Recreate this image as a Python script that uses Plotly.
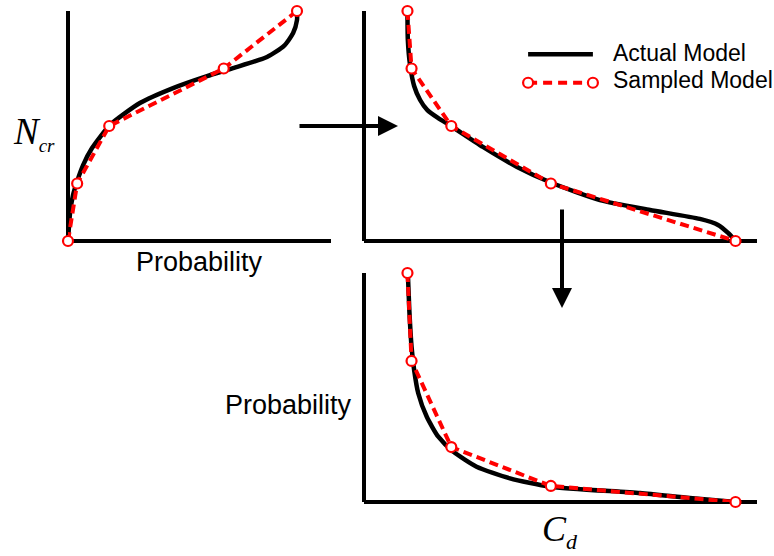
import plotly.graph_objects as go

W, H = 774, 556

# ---- data -------------------------------------------------------------
# Panel 1: probability vs critical load N_cr
p1_actual_prob = [0, 0.009, 0.022, 0.039, 0.066, 0.105, 0.183, 0.314, 0.459,
                  0.607, 0.721, 0.869, 0.943, 0.983, 1.0, 1.0]
p1_actual_ncr = [0, 0.122, 0.2, 0.257, 0.33, 0.404, 0.504, 0.6, 0.665,
                 0.717, 0.752, 0.8, 0.848, 0.904, 0.961, 1.0]
p1_sample_prob = [0, 0.04, 0.18, 0.68, 1.0]
p1_sample_ncr = [0, 0.25, 0.5, 0.75, 1.0]

# Panel 2: N_cr vs drag coefficient C_d
p2_actual_cd = [0.117, 0.118, 0.124, 0.135, 0.151, 0.170, 0.199, 0.234, 0.320,
                0.412, 0.506, 0.635, 0.770, 0.904, 0.953, 0.980, 1.0]
p2_actual_ncr = [1.0, 0.874, 0.765, 0.674, 0.613, 0.57, 0.535, 0.5, 0.409,
                 0.322, 0.252, 0.178, 0.135, 0.096, 0.07, 0.035, 0]
sample_cd = [0.117, 0.128, 0.235, 0.503, 1.0]
p2_sample_ncr = [1.0, 0.75, 0.5, 0.25, 0]

# Panel 3: probability vs C_d
p3_actual_cd = [0.118, 0.122, 0.128, 0.135, 0.146, 0.169, 0.2, 0.240, 0.303,
                0.393, 0.501, 0.743, 0.877, 1.0]
p3_actual_prob = [1.0, 0.838, 0.678, 0.576, 0.475, 0.372, 0.285, 0.220, 0.154,
                  0.103, 0.067, 0.039, 0.017, 0]
p3_sample_prob = [1.0, 0.616, 0.24, 0.07, 0]

# Legend swatch rows (legend inset axis units)
legend_x = [0, 1]
legend_rows = {"Actual Model": 1, "Sampled Model": 0}

# ---- styling ------------------------------------------------------------
RED = "#ff0000"
LW = 4  # axis line width
actual_line = dict(color="black", width=4.5, shape="spline", smoothing=0.6)
sample_line = dict(color=RED, width=4, dash="9px,5px")
sample_marker = dict(symbol="circle", size=10, color="white",
                     line=dict(color=RED, width=2.2))

fig = go.Figure()


def add_panel(xa, ya, ax_x, ax_y, sx, sy):
    fig.add_trace(go.Scatter(x=ax_x, y=ax_y, mode="lines", line=actual_line,
                             xaxis=xa, yaxis=ya, cliponaxis=False,
                             showlegend=False, hoverinfo="skip"))
    fig.add_trace(go.Scatter(x=sx, y=sy, mode="lines+markers", line=sample_line,
                             marker=sample_marker, xaxis=xa, yaxis=ya,
                             cliponaxis=False, showlegend=False,
                             hoverinfo="skip"))


add_panel("x", "y", p1_actual_prob, p1_actual_ncr, p1_sample_prob, p1_sample_ncr)
add_panel("x2", "y2", p2_actual_cd, p2_actual_ncr, sample_cd, p2_sample_ncr)
add_panel("x3", "y3", p3_actual_cd, p3_actual_prob, sample_cd, p3_sample_prob)

# legend swatches
row_a = legend_rows["Actual Model"]
row_s = legend_rows["Sampled Model"]
fig.add_trace(go.Scatter(x=legend_x, y=[row_a, row_a], mode="lines",
                         line=dict(color="black", width=4.5), xaxis="x4",
                         yaxis="y4", cliponaxis=False, showlegend=False,
                         hoverinfo="skip"))
fig.add_trace(go.Scatter(x=legend_x, y=[row_s, row_s], mode="lines+markers",
                         line=dict(color=RED, width=4, dash="9px,6px"),
                         marker=sample_marker, xaxis="x4", yaxis="y4",
                         cliponaxis=False, showlegend=False, hoverinfo="skip"))


def px_x(v):
    return v / W


def px_y(v):
    return 1 - v / H


# The L-shaped frame of each panel is the zero line of its axes, so the
# lines sit exactly on value 0 of the data.
axis_style = dict(showline=False, showgrid=False, zeroline=True,
                  zerolinecolor="black", zerolinewidth=LW,
                  showticklabels=False, ticks="", fixedrange=True)


def x_axis(zero_px, unit_px, end_px, anchor):
    return dict(domain=[px_x(zero_px), px_x(end_px)],
                range=[0, (end_px - zero_px) / unit_px],
                anchor=anchor, **axis_style)


def y_axis(zero_px, unit_px, top_px, anchor):
    return dict(domain=[px_y(zero_px), px_y(top_px)],
                range=[0, (zero_px - top_px) / unit_px],
                anchor=anchor, **axis_style)


fig.update_layout(
    width=W, height=H,
    margin=dict(l=0, r=0, t=0, b=0),
    paper_bgcolor="white", plot_bgcolor="white",
    showlegend=False,
    xaxis=x_axis(68, 229, 331, "y"),
    yaxis=y_axis(241, 230, 11, "x"),
    xaxis2=x_axis(364, 371.5, 757, "y2"),
    yaxis2=y_axis(241, 230, 11, "x2"),
    xaxis3=x_axis(364, 371.5, 757, "y3"),
    yaxis3=y_axis(502, 229, 273, "x3"),
    xaxis4=dict(domain=[px_x(520), px_x(601)], range=[-0.125, 1.125],
                anchor="y4", visible=False, fixedrange=True),
    yaxis4=dict(domain=[px_y(97), px_y(40)], range=[-0.5, 1.5],
                anchor="x4", visible=False, fixedrange=True),
)

sans = "Liberation Sans, Arial, Helvetica, sans-serif"
serif = "Liberation Serif, Times New Roman, serif"

labels = [
    dict(text="Probability", x=200, y=262, size=27, family=sans,
         xanchor="center", yanchor="middle"),
    dict(text="Probability", x=288, y=405, size=27, family=sans,
         xanchor="center", yanchor="middle"),
    dict(text="<i>N</i><sub><span style='font-size:19px'><i>cr</i></span></sub>",
         x=34, y=133, size=37, family=serif, xanchor="center",
         yanchor="middle"),
    dict(text="<i>C</i><sub><span style='font-size:22px'><i>d</i></span></sub>",
         x=560, y=556, size=36, family=serif, xanchor="center",
         yanchor="bottom"),
    dict(text="Actual Model", x=611, y=53, size=23, family=sans,
         xanchor="left", yanchor="middle"),
    dict(text="Sampled Model", x=611, y=80, size=23, family=sans,
         xanchor="left", yanchor="middle"),
]
for lab in labels:
    fig.add_annotation(text=lab["text"], xref="paper", yref="paper",
                       x=px_x(lab["x"]), y=px_y(lab["y"]),
                       xanchor=lab["xanchor"], yanchor=lab["yanchor"],
                       showarrow=False,
                       font=dict(family=lab["family"], size=lab["size"],
                                 color="black"))

# flow arrows between the panels
arrows = [
    dict(head=(398, 126), ax=-100, ay=0),
    dict(head=(562, 308), ax=0, ay=-100),
]
for a in arrows:
    fig.add_annotation(text="", xref="paper", yref="paper",
                       x=px_x(a["head"][0]), y=px_y(a["head"][1]),
                       ax=a["ax"], ay=a["ay"], showarrow=True,
                       arrowhead=2, arrowsize=1, arrowwidth=4,
                       arrowcolor="black")

fig.write_html("out.html")
